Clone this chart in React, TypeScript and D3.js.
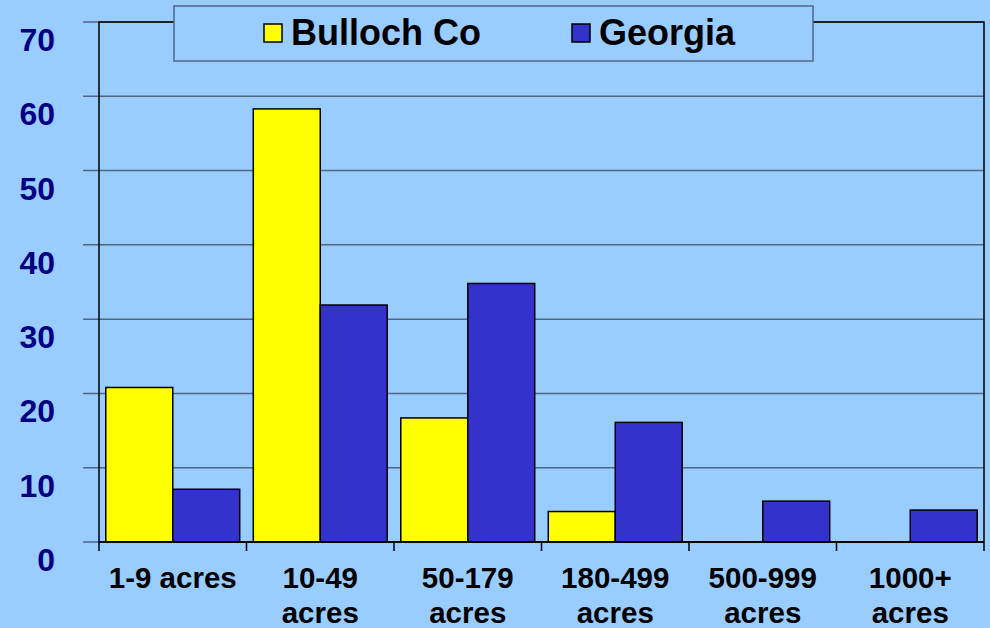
import React from "react";
import * as d3 from "d3";

const categories = [
  ["1-9 acres"],
  ["10-49", "acres"],
  ["50-179", "acres"],
  ["180-499", "acres"],
  ["500-999", "acres"],
  ["1000+", "acres"],
];
const seriesNames = ["Bulloch Co", "Georgia"];
const bulloch = [20.8, 58.3, 16.7, 4.1, 0, 0];
const georgia = [7.1, 31.9, 34.8, 16.1, 5.5, 4.3];
const yTicks = [0, 10, 20, 30, 40, 50, 60, 70];

const colors = ["#FFFF00", "#3333CC"];
const font = "'Liberation Sans', Arial, sans-serif";
const gridColor = "#4f6784";

const width = 990;
const height = 628;
const left = 99;
const right = 984;
const top = 22;
const bottom = 542;

export default function App() {
  const keys = categories.map((c) => c.join(" "));
  const x0 = d3.scaleBand<string>().domain(keys).range([left, right]).paddingInner(0.092).paddingOuter(0.046);
  const x1 = d3.scaleBand<string>().domain(seriesNames).range([0, x0.bandwidth()]);
  const y = d3.scaleLinear().domain([0, 70]).range([bottom, top]);
  const step = (right - left) / categories.length;
  const series = [bulloch, georgia];

  return (
    <svg width={width} height={height} style={{ position: "absolute", left: 0, top: 0 }}>
      <rect width={width} height={height} fill="#99CCFF" />

      {yTicks.map((t) => (
        <g key={t}>
          <line x1={83} x2={right} y1={y(t)} y2={y(t)} stroke={gridColor} strokeWidth={1.5} />
          <text x={55} y={y(t) + 29} textAnchor="end" fontFamily={font} fontWeight="bold" fontSize={32} fill="#000080">
            {t}
          </text>
        </g>
      ))}

      {/* plot frame */}
      <path d={`M${left},${bottom}V${top}H${right}V${bottom}`} fill="none" stroke="#000" strokeWidth={1.5} />

      {series.map((vals, si) =>
        vals.map((v, i) => {
          if (v <= 0) return null;
          const bx = (x0(keys[i]) ?? 0) + (x1(seriesNames[si]) ?? 0);
          return (
            <rect key={`${si}-${i}`} x={bx} y={y(v)} width={x1.bandwidth()} height={y(0) - y(v)}
              fill={colors[si]} stroke="#000" strokeWidth={1.5} />
          );
        })
      )}

      <line x1={left} x2={right} y1={bottom} y2={bottom} stroke="#000" strokeWidth={2} />
      {d3.range(categories.length + 1).map((i) => (
        <line key={i} x1={left + i * step} x2={left + i * step} y1={bottom} y2={bottom + 9} stroke="#000" strokeWidth={1.5} />
      ))}

      {categories.map((lines, i) => (
        <text key={i} textAnchor="middle" fontFamily={font} fontWeight="bold" fontSize={29.5} fill="#000">
          {lines.map((l, j) => (
            <tspan key={j} x={(x0(keys[i]) ?? 0) + x0.bandwidth() / 2} y={588 + j * 35}>
              {l}
            </tspan>
          ))}
        </text>
      ))}

      {/* legend */}
      <rect x={174} y={6} width={639} height={55} fill="#99CCFF" stroke={gridColor} strokeWidth={1.5} />
      {seriesNames.map((name, i) => {
        const lx = 264 + i * 308;
        return (
          <g key={name}>
            <rect x={lx} y={24} width={18} height={18} fill={colors[i]} stroke="#000" strokeWidth={1.5} />
            <text x={lx + 27} y={45} fontFamily={font} fontWeight="bold" fontSize={36} fill="#000">
              {name}
            </text>
          </g>
        );
      })}
    </svg>
  );
}
